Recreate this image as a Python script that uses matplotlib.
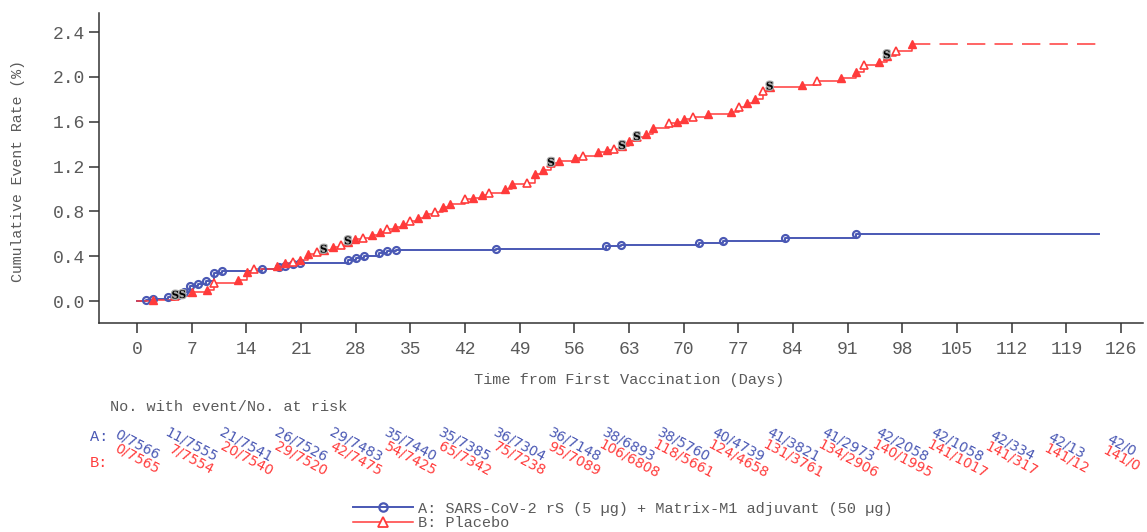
import numpy as np
import matplotlib
matplotlib.use("Agg")
import matplotlib.pyplot as plt
from matplotlib.transforms import blended_transform_factory
from matplotlib.lines import Line2D
import matplotlib.patheffects as pe

# ---------------- data ----------------
a_days = [1.1, 2.0, 4.0, 5.2, 6.0, 6.8, 7.8, 8.8, 9.9, 10.9, 16.0, 18.2, 19.0, 20.0, 20.9,
          27.0, 28.0, 29.0, 31.0, 32.0, 33.2, 46.0, 60.0, 62.0, 72.0, 75.0, 83.0, 92.0]
a_rate = [0.01, 0.015, 0.035, 0.05, 0.08, 0.13, 0.155, 0.175, 0.25, 0.27, 0.285, 0.30, 0.31, 0.33, 0.34,
          0.37, 0.38, 0.40, 0.43, 0.445, 0.455, 0.467, 0.487, 0.497, 0.517, 0.537, 0.562, 0.597]

b_days = [2.0, 4.9, 7.0, 9.0, 9.9, 12.9, 14.1, 15.0, 17.9, 18.9, 20.0, 20.9, 21.9, 23.0, 23.9,
          25.1, 26.1, 27.0, 27.9, 28.9, 30.1, 31.1, 32.0, 33.0, 34.1, 35.0, 36.0, 37.0, 38.2,
          39.2, 40.1, 42.0, 43.0, 44.2, 45.1, 47.1, 48.0, 49.9, 51.0, 52.0, 53.0, 54.0, 56.1,
          57.1, 59.0, 60.2, 61.1, 62.1, 63.0, 64.0, 65.2, 66.1, 68.1, 69.1, 70.0, 71.2, 73.1,
          76.1, 77.1, 78.1, 79.1, 80.2, 81.0, 85.1, 87.1, 90.1, 92.1, 93.1, 95.0, 96.0, 97.2, 99.2]
b_rate = [0.01, 0.045, 0.08, 0.10, 0.16, 0.19, 0.26, 0.29, 0.31, 0.34, 0.35, 0.37, 0.42, 0.44, 0.455,
          0.48, 0.50, 0.53, 0.55, 0.56, 0.59, 0.62, 0.64, 0.66, 0.69, 0.71, 0.74, 0.78, 0.79,
          0.84, 0.87, 0.91, 0.92, 0.95, 0.96, 1.00, 1.04, 1.05, 1.13, 1.17, 1.23, 1.25, 1.28,
          1.29, 1.33, 1.35, 1.36, 1.38, 1.43, 1.46, 1.49, 1.54, 1.59, 1.60, 1.62, 1.64, 1.67,
          1.69, 1.73, 1.77, 1.80, 1.87, 1.91, 1.93, 1.96, 1.99, 2.04, 2.11, 2.13, 2.19, 2.23, 2.29]

end_day = 123.2

s_days_a = [5.8]
s_days_b = [4.9, 23.9, 27.0, 53.0, 62.1, 64.0, 81.0, 96.0]

risk_days = list(range(0, 127, 7))
risk_a = ["0/7566", "11/7555", "21/7541", "26/7526", "29/7483", "35/7440", "35/7385", "36/7304",
          "36/7148", "38/6893", "38/5760", "40/4739", "41/3821", "41/2973", "42/2058", "42/1058",
          "42/334", "42/13", "42/0"]
risk_b = ["0/7565", "7/7554", "20/7540", "29/7520", "42/7475", "54/7425", "65/7342", "75/7238",
          "95/7089", "106/6808", "118/5661", "124/4658", "131/3761", "134/2906", "140/1995",
          "141/1017", "141/317", "141/12", "141/0"]

xticks = list(range(0, 127, 7))
yticks = [0.0, 0.4, 0.8, 1.2, 1.6, 2.0, 2.4]

label_a = "A: SARS-CoV-2 rS (5 \u00b5g) + Matrix-M1 adjuvant (50 \u00b5g)"
label_b = "B: Placebo"

# ---------------- style ----------------
BLUE = "#4a58b4"
RED = "#ff3b3b"
GRAY = "#5a5a5a"
plt.rcParams["font.family"] = ["Liberation Mono", "DejaVu Sans"]

W, H = 1147, 532
fig = plt.figure(figsize=(W / 100, H / 100), dpi=100)
ax = fig.add_axes([99 / W, 1 - 323 / H, (1143 - 99) / W, (323 - 13) / H])


def step_val(days, rates, d):
    i = np.searchsorted(days, d, side="right") - 1
    return rates[i] if i >= 0 else 0.0


# curve A
ax.plot([0] + a_days + [end_day], [0] + a_rate + [a_rate[-1]], drawstyle="steps-post",
        color=BLUE, lw=1.4, zorder=3)
ax.plot(a_days, a_rate, linestyle="none", marker="o", ms=5, mfc="none", mec=BLUE, mew=1.6, zorder=4)

# curve B
ax.plot([0] + b_days, [0] + b_rate, drawstyle="steps-post", color=RED, lw=1.1, zorder=3)
ax.plot([b_days[-1], end_day], [b_rate[-1], b_rate[-1]], color=RED, lw=1.1, dashes=(12, 6), zorder=3)
bd = np.array(b_days)
br = np.array(b_rate)
idx = np.arange(len(bd))
open_mask = (idx % 3 == 1)
ax.plot(bd[~open_mask], br[~open_mask], linestyle="none", marker="^", ms=6, mfc=RED, mec=RED,
        mew=1.0, zorder=4)
ax.plot(bd[open_mask], br[open_mask], linestyle="none", marker="^", ms=6, mfc="white", mec=RED,
        mew=1.2, zorder=4)

# S markers
halo = [pe.withStroke(linewidth=1.8, foreground="#a8a8a8")]
for d in s_days_a:
    ax.text(d, step_val(a_days, a_rate, d), "S", family="DejaVu Serif", weight="bold", fontsize=7.5,
            color="black", ha="center", va="center", zorder=6, path_effects=halo)
for d in s_days_b:
    ax.text(d, step_val(b_days, b_rate, d), "S", family="DejaVu Serif", weight="bold", fontsize=7.5,
            color="black", ha="center", va="center", zorder=6, path_effects=halo)

# axes
ax.set_xlim(-4.87, 128.8)
ax.set_ylim(-0.196, 2.57)
ax.set_xticks(xticks)
ax.set_yticks(yticks)
ax.set_yticklabels([f"{v:.1f}" for v in yticks])
for s in ["top", "right"]:
    ax.spines[s].set_visible(False)
for s in ["left", "bottom"]:
    ax.spines[s].set_linewidth(1.1)
    ax.spines[s].set_color("#333333")
ax.tick_params(direction="out", length=7, width=1.1, color="#333333", labelcolor=GRAY, labelsize=13)
ax.tick_params(axis="x", pad=6)
ax.tick_params(axis="y", pad=3)

fig.text(18 / W, 1 - 171 / H, "Cumulative Event Rate (%)", rotation=90, ha="center", va="center",
         fontsize=10.7, color=GRAY)
fig.text(629 / W, 1 - 380 / H, "Time from First Vaccination (Days)", ha="center", va="center",
         fontsize=11, color=GRAY)

# risk table
fig.text(110 / W, 1 - 407 / H, "No. with event/No. at risk", ha="left", va="center", fontsize=11,
         color=GRAY)
fig.text(90 / W, 1 - 437 / H, "A:", ha="left", va="center", fontsize=11, color=BLUE)
fig.text(90 / W, 1 - 463 / H, "B:", ha="left", va="center", fontsize=11, color=RED)
trans = blended_transform_factory(ax.transData, fig.transFigure)
for d, ta, tb in zip(risk_days, risk_a, risk_b):
    ax.text(d, 1 - 445 / H, ta, transform=trans, rotation=-28, rotation_mode="anchor", ha="center",
            va="center", fontsize=10, family="DejaVu Sans", color=BLUE, clip_on=False)
    ax.text(d, 1 - 459 / H, tb, transform=trans, rotation=-28, rotation_mode="anchor", ha="center",
            va="center", fontsize=10, family="DejaVu Sans", color=RED, clip_on=False)

# legend
h_a = Line2D([], [], color=BLUE, lw=1.4, marker="o", ms=6, mfc="none", mec=BLUE, mew=1.6)
h_b = Line2D([], [], color=RED, lw=1.1, marker="^", ms=7, mfc="white", mec=RED, mew=1.3)
leg = fig.legend([h_a, h_b], [label_a, label_b], loc="center left",
                 bbox_to_anchor=(353 / W, 1 - 516 / H), frameon=False, fontsize=11,
                 handlelength=3.9, handletextpad=0.35, labelspacing=0.05, borderpad=0,
                 borderaxespad=0)
for t in leg.get_texts():
    t.set_color(GRAY)

fig.savefig("out.png", dpi=100)
